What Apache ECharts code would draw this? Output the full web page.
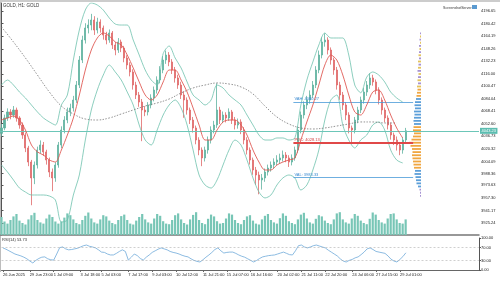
<!DOCTYPE html>
<html>
<head>
<meta charset="utf-8">
<title>GOLD, H1</title>
<script src="https://cdn.jsdelivr.net/npm/echarts@6/dist/echarts.min.js"></script>
<style>
  html, body { margin: 0; padding: 0; background: #fff; }
  #main { width: 500px; height: 281px; }
</style>
</head>
<body>
<div id="main"></div>
<script>
// time axis labels and the bar they sit on
var timeLabels = ['26 Jun 2025', '29 Jun 23:00', '1 Jul 09:00', '3 Jul 18:00', '5 Jul 03:00', '7 Jul 17:00',
  '9 Jul 03:00', '10 Jul 12:00', '11 Jul 21:00', '15 Jul 07:00', '16 Jul 16:00', '20 Jul 02:00',
  '21 Jul 11:00', '22 Jul 20:00', '24 Jul 06:00', '27 Jul 15:00', '29 Jul 01:00'];
var timeLabelBars = [0, 9, 17, 26, 33, 42, 50, 58, 67, 75, 83, 92, 100, 108, 117, 125, 133];

// price bars
var firstOpen = 4040.0;
var closes = [
  4046.9, 4059.7, 4067.4, 4063.5, 4069.9, 4059.7, 4050.7, 4037.9, 4021.3, 4003.3,
  3982.9, 3999.5, 4018.7, 4025.1, 4016.2, 4005.9, 3990.5, 3982.9, 3999.5, 4025.1,
  4044.3, 4057.1, 4067.4, 4072.5, 4082.7, 4101.9, 4133.9, 4159.5, 4174.9, 4178.7,
  4185.1, 4172.3, 4182.6, 4174.9, 4165.9, 4159.5, 4168.5, 4153.1, 4146.7, 4157.0,
  4149.3, 4136.5, 4127.5, 4118.6, 4101.9, 4089.1, 4080.1, 4069.9, 4067.4, 4076.3,
  4085.3, 4095.5, 4108.3, 4121.1, 4133.9, 4140.3, 4131.4, 4121.1, 4110.9, 4101.9,
  4089.1, 4082.7, 4069.9, 4057.1, 4046.9, 4031.5, 4018.7, 4008.5, 4018.7, 4031.5,
  4044.3, 4050.7, 4069.9, 4057.1, 4063.5, 4059.7, 4067.4, 4057.1, 4050.7, 4054.6,
  4044.3, 4031.5, 4018.7, 4005.9, 3993.1, 3986.7, 3980.3, 3982.9, 3990.5, 3995.6,
  3999.5, 4003.3, 4005.9, 4008.5, 4012.3, 4008.5, 4003.3, 4008.5, 4018.7, 4044.3,
  4063.5, 4076.3, 4082.7, 4089.1, 4101.9, 4121.1, 4140.3, 4157.0, 4159.5, 4146.7,
  4133.9, 4121.1, 4101.9, 4089.1, 4076.3, 4063.5, 4046.9, 4044.3, 4057.1, 4069.9,
  4082.7, 4092.9, 4101.9, 4110.9, 4105.8, 4095.5, 4082.7, 4069.9, 4059.7, 4050.7,
  4037.9, 4031.5, 4025.1, 4018.7, 4031.5, 4043.23
];
var highs = [
  4052, 4064, 4072, 4071, 4075, 4073, 4062, 4054, 4041, 4024,
  4006, 4004, 4023, 4031, 4029, 4019, 4009, 3995, 4003, 4029,
  4049, 4062, 4073, 4078, 4088, 4107, 4139, 4165, 4181, 4186,
  4193, 4190, 4188, 4186, 4178, 4170, 4173, 4171, 4157, 4162,
  4160, 4152, 4140, 4131, 4122, 4106, 4093, 4084, 4075, 4080,
  4090, 4100, 4113, 4126, 4139, 4146, 4144, 4135, 4125, 4115,
  4106, 4094, 4086, 4073, 4061, 4050, 4035, 4022, 4023, 4036,
  4049, 4056, 4104, 4074, 4068, 4067, 4072, 4070, 4061, 4059,
  4058, 4048, 4035, 4022, 4009, 3997, 3991, 3988, 3995, 4000,
  4004, 4008, 4012, 4014, 4018, 4016, 4012, 4013, 4023, 4049,
  4068, 4081, 4088, 4095, 4107, 4126, 4146, 4163, 4168, 4163,
  4150, 4137, 4125, 4106, 4093, 4080, 4067, 4050, 4061, 4074,
  4087, 4098, 4107, 4117, 4115, 4109, 4099, 4086, 4073, 4063,
  4054, 4041, 4036, 4029, 4035, 4047
];
var lows = [
  4036, 4044, 4056, 4058, 4060, 4055, 4046, 4033, 4016, 3998,
  3948, 3975, 3995, 4014, 4011, 4000, 3984, 3966, 3978, 3996,
  4021, 4040, 4053, 4062, 4068, 4079, 4098, 4130, 4155, 4168,
  4172, 4166, 4168, 4169, 4160, 4154, 4156, 4148, 4140, 4143,
  4144, 4131, 4122, 4113, 4096, 4084, 4074, 4030, 4062, 4063,
  4072, 4081, 4091, 4104, 4117, 4129, 4126, 4116, 4105, 4097,
  4084, 4060, 4064, 4052, 4041, 4026, 4012, 3998, 4004, 4014,
  4027, 4040, 4047, 4052, 4053, 4054, 4056, 4052, 4045, 4046,
  4039, 4026, 4013, 4000, 3987, 3974, 3962, 3968, 3978, 3986,
  3991, 3995, 3999, 4001, 4004, 4003, 3997, 3999, 4005, 4015,
  4040, 4059, 4071, 4078, 4085, 4098, 4117, 4136, 4151, 4141,
  4128, 4115, 4096, 4083, 4070, 4057, 4040, 4028, 4040, 4053,
  4066, 4078, 4088, 4097, 4101, 4090, 4077, 4064, 4054, 4045,
  4032, 4025, 4018, 4012, 4014, 4028
];
var volumes = [
  60, 45, 38, 50, 62, 70, 48, 40, 35, 52, 66, 74, 50, 42, 38, 55, 68, 60, 45, 38, 45, 58, 72, 66,
  52, 40, 36, 50, 64, 75, 55, 42, 38, 52, 66, 62, 48, 40, 36, 50, 63, 68, 50, 38, 35, 48, 60, 70,
  52, 42, 38, 55, 70, 64, 46, 38, 36, 50, 66, 72, 52, 40, 35, 52, 67, 76, 50, 40, 36, 54, 68, 62,
  46, 38, 40, 55, 72, 68, 50, 40, 36, 50, 62, 66, 48, 38, 35, 52, 64, 70, 50, 42, 38, 56, 72, 64,
  46, 40, 36, 52, 68, 74, 55, 42, 38, 54, 66, 62, 48, 40, 36, 52, 72, 76, 52, 42, 38, 55, 70, 64,
  48, 40, 36, 54, 75, 68, 50, 42, 38, 55, 70, 72, 52, 40, 38, 52
];

// overlays: one point every 2 bars (slow MA every 4 bars)
var maRed = [
  4057.1, 4059.7, 4062.2, 4057.1, 4044.3, 4025.1, 4016.2, 4012.3, 4005.9, 4003.3,
  4018.7, 4037.9, 4059.7, 4089.1, 4121.1, 4146.7, 4162.1, 4168.5, 4164.6, 4157.0,
  4153.1, 4140.3, 4123.7, 4105.8, 4089.1, 4082.7, 4089.1, 4105.8, 4121.1, 4121.1,
  4108.3, 4092.9, 4072.5, 4050.7, 4031.5, 4031.5, 4044.3, 4054.6, 4057.1, 4057.1,
  4050.7, 4037.9, 4018.7, 4003.3, 3993.1, 3993.1, 3999.5, 4003.3, 4005.9, 4008.5,
  4031.5, 4054.6, 4076.3, 4101.9, 4127.5, 4140.3, 4133.9, 4114.7, 4089.1, 4067.4,
  4063.5, 4076.3, 4092.9, 4095.5, 4082.7, 4063.5, 4046.9, 4034.1
];
var bbUpper = [
  4101.9, 4108.3, 4101.9, 4092.9, 4085.3, 4076.3, 4067.4, 4059.7, 4054.6, 4050.7,
  4076.3, 4089.1, 4133.9, 4172.3, 4197.9, 4206.9, 4204.3, 4197.9, 4187.7, 4180.0,
  4178.7, 4178.7, 4159.5, 4140.3, 4121.1, 4108.3, 4101.9, 4142.0, 4151.8, 4136.5,
  4123.7, 4105.8, 4089.1, 4082.7, 4076.3, 4082.7, 4101.9, 4098.1, 4089.1, 4082.7,
  4076.3, 4063.5, 4050.7, 4037.9, 4031.5, 4031.5, 4034.1, 4034.1, 4031.5, 4034.1,
  4076.3, 4108.3, 4131.4, 4153.1, 4168.5, 4162.1, 4162.1, 4162.1, 4140.3, 4101.9,
  4092.0, 4112.0, 4118.6, 4114.7, 4105.8, 4092.9, 4085.3, 4080.1
];
var bbLower = [
  3999.5, 3990.5, 3980.3, 3970.0, 3964.9, 3961.1, 3961.1, 3961.1, 3959.8, 3954.7,
  3926.5, 3929.1, 3961.1, 3986.7, 4031.5, 4069.9, 4095.5, 4114.7, 4127.5, 4118.6,
  4108.3, 4092.9, 4076.3, 4050.7, 4031.5, 4025.1, 4044.3, 4063.5, 4076.3, 4082.7,
  4072.5, 4050.7, 4018.7, 3986.7, 3973.9, 3970.0, 3980.3, 3999.5, 4018.7, 4031.5,
  4025.1, 4005.9, 3982.9, 3964.9, 3957.3, 3961.1, 3973.9, 3982.9, 3986.7, 3982.9,
  3967.5, 3973.9, 3993.1, 4018.7, 4057.1, 4082.7, 4089.1, 4050.7, 4031.5, 4021.3,
  4031.5, 4037.9, 4050.7, 4054.6, 4044.3, 4018.7, 4005.9, 4002.1
];
var maSlow = [
  4176.2, 4157.0, 4136.5, 4114.7, 4092.9, 4075.0, 4064.8, 4058.4, 4057.1, 4059.7,
  4064.8, 4069.9, 4075.0, 4078.9, 4084.0, 4091.7, 4098.1, 4101.9, 4104.5, 4103.2,
  4099.4, 4090.4, 4075.0, 4061.0, 4052.0, 4046.9, 4045.6, 4046.9, 4049.4, 4052.0,
  4054.6, 4054.6, 4053.3, 4053.3
];

// RSI(14), one value per bar
var rsi = [
  69, 65, 60, 55, 50, 47, 44, 40, 35, 28,
  22, 30, 36, 40, 41, 35, 32, 31, 50, 70,
  72, 66, 63, 64, 66, 68, 72, 76, 78, 74,
  72, 69, 63, 56, 55, 50, 47, 47, 52, 58,
  63, 58, 31, 40, 50, 45, 36, 31, 40, 47,
  55, 60, 65, 69, 66, 63, 58, 55, 53, 50,
  46, 43, 41, 35, 30, 27, 25, 32, 40, 47,
  55, 64, 69, 60, 53, 55, 56, 56, 52, 47,
  43, 40, 35, 30, 25, 30, 36, 41, 43, 45,
  46, 47, 50, 53, 56, 52, 48, 47, 60, 76,
  78, 72, 69, 72, 76, 78, 75, 72, 69, 62,
  56, 50, 44, 35, 28, 25, 30, 33, 38, 41,
  48, 56, 66, 69, 64, 58, 56, 54, 52, 44,
  34, 28, 25, 33, 42, 53.73
];

// volume profile
var vpLevels = [
  4168, 4164, 4160, 4156, 4152, 4148, 4144, 4140, 4136, 4132,
  4128, 4124, 4120, 4116, 4112, 4108, 4104, 4100, 4096, 4092,
  4088, 4084, 4080, 4076, 4072, 4068, 4064, 4060, 4056, 4052,
  4048, 4044, 4040, 4036, 4032, 4028, 4024, 4020, 4016, 4012,
  4008, 4004, 4000, 3996, 3992, 3988, 3984, 3980, 3976, 3972,
  3968, 3964, 3960
];
var vpVolumes = [
  1, 1, 1.5, 1, 2, 1.5, 2, 2.5, 2, 3,
  2.5, 3, 3.5, 2.5, 3, 3.5, 3, 4, 3.5, 4,
  4.5, 5, 6, 6.5, 6, 7, 6.5, 7, 7.5, 7,
  7.5, 8, 7, 8, 9.5, 12, 10.5, 9, 8.5, 9,
  8.5, 8, 7.5, 7, 6, 6.5, 5.5, 5, 4.5, 3,
  1.5, 1, 1
];
var vah = 4080.27, poc = 4028.13, val = 3983.33;
var lastPrice = 4043.23;
var lastRsi = 53.73;

// price axis labels
var priceTicks = [4196.65, 4180.42, 4164.19, 4148.26, 4132.23, 4116.00, 4100.47, 4084.04, 4068.41,
  4052.60, 4036.73, 4020.32, 4004.09, 3988.36, 3973.63, 3957.30, 3941.17, 3925.24];
var rsiTicks = [100, 70, 30, 0];

var FONT = 'Liberation Sans, DejaVu Sans, sans-serif';
var nSlots = 160;           // bars plus empty space on the right
var priceMin = 3909.88, priceMax = 4206.89;

var cats = [];
for (var i = 0; i < nSlots; i++) cats.push('b' + i);
var labelAt = {};
timeLabelBars.forEach(function (b, k) { labelAt[b] = timeLabels[k]; });
function isLabelBar(idx) { return labelAt[idx] !== undefined; }

var candles = closes.map(function (c, k) {
  return [k === 0 ? firstOpen : closes[k - 1], c, lows[k], highs[k]];
});
function every(arr, step) { return arr.map(function (v, k) { return [k * step, v]; }); }
var vpData = vpLevels.map(function (p, k) { return [p, vpVolumes[k]]; });

function vpColor(lvl) {
  if (lvl >= 4100) return (lvl / 4) % 2 ? '#e3c35c' : '#a693d2';
  if (lvl >= 4086) return '#f0a640';
  if (lvl >= 4052) return '#5c9fd9';
  if (lvl >= 3996) return '#f0a640';
  if (lvl >= 3972) return '#5c9fd9';
  return '#a693d2';
}

var myChart = echarts.init(document.getElementById('main'), null, { renderer: 'canvas' });

var bandStyle = { color: '#6fc2ad', width: 0.8 };

var option = {
  animation: false,
  backgroundColor: '#ffffff',
  textStyle: { fontFamily: FONT },
  grid: [
    { left: 0, right: 21, top: 3, height: 232 },   // price
    { left: 0, right: 21, top: 205, height: 30 },  // volume
    { left: 404, width: 17, top: 3, height: 232 }, // volume profile
    { left: 0, right: 21, top: 238, height: 32 }   // rsi
  ],
  xAxis: [
    { type: 'category', gridIndex: 0, data: cats, boundaryGap: true,
      axisLine: { show: true, lineStyle: { color: '#777', width: 1.5 } },
      axisTick: { show: false }, axisLabel: { show: false }, splitLine: { show: false } },
    { type: 'category', gridIndex: 1, data: cats, boundaryGap: true, show: false },
    { type: 'value', gridIndex: 0, min: -0.5, max: nSlots - 0.5, show: false },
    { type: 'value', gridIndex: 2, min: 0, max: 17, inverse: true, show: false },
    { type: 'category', gridIndex: 3, data: cats, boundaryGap: true, offset: 1,
      axisLine: { show: true, lineStyle: { color: '#666', width: 1 } },
      axisTick: { show: true, interval: isLabelBar, length: 2, alignWithLabel: true, lineStyle: { color: '#666' } },
      axisLabel: { show: true, interval: isLabelBar, fontSize: 4, color: '#222', align: 'left', margin: 2,
        fontFamily: FONT,
        formatter: function (v, idx) { return labelAt[idx] || ''; } },
      splitLine: { show: false } }
  ],
  yAxis: [
    { type: 'value', gridIndex: 0, position: 'right', min: priceMin, max: priceMax,
      axisLine: { show: true, lineStyle: { color: '#555', width: 1 } },
      axisTick: { show: true, customValues: priceTicks, length: 2, lineStyle: { color: '#555' } },
      axisLabel: { show: true, customValues: priceTicks, fontSize: 4, color: '#222', margin: 2,
        fontFamily: FONT, formatter: function (v) { return v.toFixed(2); } },
      splitLine: { show: false } },
    { type: 'value', gridIndex: 1, min: 0, max: 100, show: false },
    { type: 'value', gridIndex: 2, min: priceMin, max: priceMax, show: false },
    { type: 'value', gridIndex: 3, position: 'right', min: 0, max: 100,
      axisLine: { show: true, lineStyle: { color: '#555', width: 1 } },
      axisTick: { show: true, customValues: rsiTicks, length: 2, lineStyle: { color: '#555' } },
      axisLabel: { show: true, customValues: rsiTicks, fontSize: 4, color: '#222', margin: 2,
        fontFamily: FONT, formatter: function (v) { return v.toFixed(2); } },
      splitLine: { show: false } }
  ],
  series: [
    {
      name: 'volume', type: 'bar', xAxisIndex: 1, yAxisIndex: 1, data: volumes,
      barWidth: 2.2, itemStyle: { color: '#78c6b6' }, z: 1
    },
    {
      name: 'GOLD', type: 'candlestick', xAxisIndex: 0, yAxisIndex: 0, data: candles,
      barWidth: 1.6, z: 3,
      itemStyle: { color: '#5fb3a0', color0: '#e06868', borderColor: '#5fb3a0', borderColor0: '#e06868', borderWidth: 0.8 },
      markLine: {
        silent: true, symbol: ['none', 'none'],
        lineStyle: { color: '#6cc6b8', width: 1, type: 'solid' },
        label: { show: true, position: 'end', distance: 1, formatter: lastPrice.toFixed(2),
          backgroundColor: '#5cbdb0', color: '#ffffff', fontSize: 4, padding: [1, 1.5], fontFamily: FONT },
        data: [{ yAxis: lastPrice }]
      }
    },
    {
      name: 'BB upper', type: 'line', xAxisIndex: 2, yAxisIndex: 0, data: every(bbUpper, 2),
      showSymbol: false, smooth: 0.3, lineStyle: bandStyle, z: 4
    },
    {
      name: 'BB lower', type: 'line', xAxisIndex: 2, yAxisIndex: 0, data: every(bbLower, 2),
      showSymbol: false, smooth: 0.3, lineStyle: bandStyle, z: 4
    },
    {
      name: 'MA', type: 'line', xAxisIndex: 2, yAxisIndex: 0, data: every(maRed, 2),
      showSymbol: false, smooth: 0.3, lineStyle: { color: '#e05a55', width: 0.9 }, z: 5
    },
    {
      name: 'MA slow', type: 'line', xAxisIndex: 2, yAxisIndex: 0, data: every(maSlow, 4),
      showSymbol: false, smooth: 0.4, lineStyle: { color: '#777', width: 0.8, type: [1.5, 1.5] }, z: 4,
      markLine: {
        silent: true, symbol: ['none', 'none'],
        data: [
          [{ coord: [97.5, vah], lineStyle: { color: '#4a9ad8', width: 0.8, type: 'solid' },
             label: { show: true, position: 'insideStartTop', formatter: 'VAH: ' + vah.toFixed(2), color: '#3a8ad0', fontSize: 4, distance: 1, fontFamily: FONT } },
           { coord: [137.5, vah] }],
          [{ coord: [97.5, poc], lineStyle: { color: '#e04848', width: 2.2, type: 'solid' },
             label: { show: true, position: 'insideStartTop', formatter: 'POC: ' + poc.toFixed(2), color: '#d03a3a', fontSize: 4, distance: 1, fontFamily: FONT } },
           { coord: [137.5, poc] }],
          [{ coord: [97.5, val], lineStyle: { color: '#4a9ad8', width: 0.8, type: 'solid' },
             label: { show: true, position: 'insideStartTop', formatter: 'VAL: ' + val.toFixed(2), color: '#3a8ad0', fontSize: 4, distance: 1, fontFamily: FONT } },
           { coord: [137.5, val] }]
        ]
      }
    },
    {
      name: 'profile', type: 'custom', xAxisIndex: 3, yAxisIndex: 2, data: vpData,
      encode: { x: 1, y: 0 }, z: 2,
      renderItem: function (params, api) {
        var lvl = api.value(0), w = api.value(1);
        var a = api.coord([w, lvl]);
        var b = api.coord([0, lvl]);
        return {
          type: 'rect',
          shape: { x: a[0], y: a[1] - 0.9, width: b[0] - a[0], height: 1.8 },
          style: { fill: vpColor(lvl) }
        };
      }
    },
    {
      name: 'RSI', type: 'line', xAxisIndex: 4, yAxisIndex: 3, data: rsi,
      showSymbol: false, lineStyle: { color: '#6fa9d9', width: 0.8 }, z: 3,
      markLine: {
        silent: true, symbol: ['none', 'none'], label: { show: false },
        lineStyle: { color: '#b0b0b0', width: 0.6, type: [2, 2] },
        data: [{ yAxis: 70 }, { yAxis: 30 }]
      }
    }
  ],
  graphic: [
    { type: 'rect', left: 0, top: 0, shape: { width: 500, height: 2 }, style: { fill: '#cccccc' }, silent: true },
    { type: 'rect', left: 0, top: 2, shape: { width: 1, height: 270 }, style: { fill: '#bdbdbd' }, silent: true },
    { type: 'text', left: 3, top: 3, style: { text: 'GOLD, H1: GOLD', fontSize: 4.5, fill: '#333', font: '4.5px ' + FONT } },
    { type: 'text', left: 443, top: 6, style: { text: 'ScreenshotServer', fontSize: 3.6, fill: '#333', font: '3.6px ' + FONT } },
    { type: 'rect', left: 472, top: 5, shape: { width: 5, height: 4 }, style: { fill: '#5b9ad0' }, silent: true },
    { type: 'text', left: 2, top: 238, style: { text: 'RSI(14) ' + lastRsi.toFixed(2), fontSize: 4, fill: '#333', font: '4px ' + FONT } }
  ]
};

myChart.setOption(option);
</script>
</body>
</html>
